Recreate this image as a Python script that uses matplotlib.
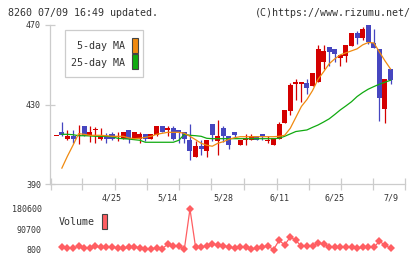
import numpy as np
import matplotlib
matplotlib.use("Agg")
import matplotlib.pyplot as plt
from matplotlib.patches import Rectangle

title_left = "8260 07/09 16:49 updated."
title_right = "(C)https://www.rizumu.net/"
date_labels = ["4/25", "5/14", "5/28", "6/11", "6/25", "7/9"]
date_label_idx = [10, 20, 30, 40, 50, 60]
price_ticks = [390, 430, 470]
vol_ticks = [800, 90700, 180600]
vol_tick_labels = ["800", "90700", "180600"]
legend_labels = ["5-day MA", "25-day MA"]

opens = [414.0, 416.2, 412.8, 414.2, 414.0, 419.2, 413.9, 417.3, 412.8, 414.2,
         415.2, 413.6, 412.8, 417.2, 412.8, 412.8, 415.2, 412.8, 414.9, 419.2,
         417.2, 418.2, 417.2, 416.2, 412.0, 403.7, 409.2, 406.8, 420.2, 411.8,
         418.2, 414.2, 416.2, 409.8, 412.1, 412.1, 414.2, 415.2, 411.7, 409.8,
         412.8, 420.8, 426.9, 440.5, 440.5, 441.0, 439.3, 441.5, 451.5, 458.8,
         457.9, 453.5, 454.6, 459.6, 466.0, 463.6, 470.0, 461.0, 457.9, 427.9,
         447.9]
highs = [414.2, 421.3, 417.2, 417.2, 419.5, 419.2, 419.2, 418.8, 418.2, 415.6,
         416.0, 416.2, 416.2, 417.2, 416.2, 416.2, 415.2, 415.2, 419.2, 419.2,
         419.2, 419.2, 417.2, 416.2, 420.0, 411.7, 412.0, 412.0, 420.2, 422.2,
         419.2, 414.2, 416.2, 412.1, 415.2, 415.2, 414.2, 415.2, 414.2, 413.2,
         421.0, 427.2, 441.0, 442.7, 441.1, 442.7, 446.0, 460.0, 460.0, 458.8,
         457.9, 454.9, 460.0, 466.0, 467.0, 469.0, 470.0, 468.0, 457.9, 442.8,
         447.9]
lows = [414.0, 413.9, 412.2, 410.5, 410.0, 413.9, 411.3, 410.8, 412.1, 410.8,
        412.0, 411.7, 412.8, 410.8, 412.8, 410.8, 411.8, 412.8, 414.0, 416.0,
        413.9, 412.0, 410.8, 410.8, 402.1, 403.7, 404.8, 403.7, 411.8, 404.6,
        411.3, 407.8, 413.0, 409.8, 409.8, 412.1, 412.1, 412.1, 410.8, 409.8,
        412.8, 420.8, 424.7, 432.3, 431.4, 435.3, 439.3, 441.5, 447.7, 449.4,
        451.5, 449.4, 451.5, 459.6, 460.6, 462.6, 460.6, 458.6, 421.8, 420.8,
        440.3]
closes = [414.2, 414.9, 414.2, 412.8, 414.4, 413.9, 416.2, 417.8, 414.2, 412.8,
          412.8, 414.1, 416.2, 412.8, 416.2, 415.2, 412.8, 415.2, 419.2, 416.0,
          418.2, 412.8, 416.0, 412.8, 406.8, 409.2, 407.8, 412.0, 414.5, 414.2,
          413.9, 409.8, 414.9, 412.1, 413.2, 414.2, 412.1, 413.9, 412.1, 413.2,
          420.2, 427.2, 439.8, 441.1, 441.1, 438.3, 446.0, 457.9, 456.9, 456.6,
          455.6, 454.9, 460.0, 466.0, 463.6, 468.0, 461.5, 458.6, 433.4, 442.8,
          442.3]
ma5 = [np.nan, 398.0, 404.0, 409.5, 415.3, 415.0, 414.5, 414.5, 414.5, 414.3,
       414.0, 414.0, 414.0, 413.2, 412.8, 413.0, 413.5, 414.0, 415.0, 415.5,
       416.0, 416.0, 416.0, 415.5, 414.0, 412.3, 410.5, 409.5, 409.0, 410.5,
       411.3, 412.5, 413.3, 413.8, 413.8, 413.8, 413.8, 413.8, 413.8, 413.8,
       414.0, 414.5, 418.0, 423.5, 429.0, 432.5, 437.0, 442.7, 446.5, 450.5,
       453.0, 455.0, 456.0, 457.0, 458.0, 460.0, 461.2, 461.0, 456.5, 452.0,
       447.9]
ma25 = [np.nan, 415.0, 415.0, 414.8, 414.3, 414.3, 414.2, 414.0, 414.0, 414.0,
        413.8, 413.0, 412.8, 412.6, 412.3, 412.0, 411.0, 411.0, 411.0, 411.0,
        411.0, 411.0, 412.0, 415.0, 414.5, 414.3, 414.0, 413.0, 412.8, 412.8,
        412.8, 412.8, 412.8, 412.8, 412.8, 412.8, 412.8, 412.8, 412.8, 412.8,
        413.0, 414.0, 415.2, 416.4, 416.8, 417.2, 418.5, 419.7, 421.2, 422.8,
        425.0, 427.3, 429.3, 431.4, 434.0, 436.0, 437.7, 439.0, 440.2, 441.2,
        442.2]
volume = [np.nan, 10800, 9300, 6400, 16700, 6400, 9300, 15300, 12300, 10800,
          10800, 9300, 6400, 10800, 12300, 9300, 4900, 3400, 9300, 4900,
          24100, 18200, 18200, 4900, 180600, 12300, 12300, 16700, 25600, 21200,
          18200, 10800, 7900, 12300, 10800, 2000, 6400, 12300, 16700, 800,
          41900, 21200, 56600, 41900, 15300, 15300, 15300, 30000, 25600, 12300,
          10800, 10800, 10800, 10800, 6400, 10800, 10800, 10800, 37400, 21200,
          6400]

W, H = 420, 259
RED = "#d40000"
BLUE = "#4646c0"
ORANGE = "#f08a10"
GREEN = "#10aa10"
VOLC = "#ff5e62"
GRID = "#cccccc"
TXT = "#333333"
MONO = "DejaVu Sans Mono"

def fx(px):
    return px / W

def fy(py):
    return 1 - py / H

fig = plt.figure(figsize=(W / 100, H / 100), dpi=100)

# pixel geometry
x0_px, x1_px = 50, 405
step_px = 5.57
first_px = 56.3
xlim = ((x0_px - first_px) / step_px, (x1_px - first_px) / step_px)

ax = fig.add_axes([fx(x0_px), fy(184), (x1_px - x0_px) / W, (184 - 25) / H])
ax.set_xlim(*xlim)
ax.set_ylim(price_ticks[0], price_ticks[-1])

idx = np.arange(len(opens))
o = np.array(opens); c = np.array(closes); h = np.array(highs); l = np.array(lows)
up = c >= o
cols = np.where(up, RED, BLUE)

ax.vlines(idx, l, h, colors=cols, linewidth=0.9, zorder=2, clip_on=False)
bottom = np.minimum(o, c)
height = np.maximum(np.abs(c - o), 0.55)
ax.bar(idx, height, bottom=bottom, width=0.9, color=cols, linewidth=0,
       zorder=3, clip_on=False)

ax.plot(idx, ma25, color=GREEN, lw=0.9, zorder=4)
ax.plot(idx, ma5, color=ORANGE, lw=0.9, zorder=4)

for s in ["top", "right"]:
    ax.spines[s].set_visible(False)
for s in ["left", "bottom"]:
    ax.spines[s].set_color(GRID)
    ax.spines[s].set_linewidth(0.9)

ax.set_yticks(price_ticks)
ax.set_yticklabels([str(v) for v in price_ticks], family=MONO, fontsize=6,
                   color=TXT)
ax.tick_params(axis="y", direction="inout", length=7, width=0.9, color=GRID,
               pad=3)
tick_px = [50.7, 82.3, 115.0, 146.7, 179.0, 210.5, 244.3, 276.7, 309.0,
           340.7, 373.3, 405.0]
ax.set_xticks([(p - first_px) / step_px for p in tick_px])
ax.set_xticklabels([])
ax.tick_params(axis="x", direction="inout", length=8, width=0.9, color=GRID)

for lab, i in zip(date_labels, date_label_idx):
    xpix = first_px + step_px * i
    fig.text(fx(xpix), fy(198), lab, ha="center", va="center", family=MONO,
             fontsize=6, color=TXT)

# volume axes
axv = fig.add_axes([fx(x0_px), fy(249.6), (x1_px - x0_px) / W,
                    (249.6 - 209) / H])
axv.set_xlim(*xlim)
axv.set_ylim(vol_ticks[0], vol_ticks[-1])
axv.plot(idx, volume, color=VOLC, lw=0.9, marker="D", markersize=3.8,
         markeredgewidth=0, clip_on=False)
for s in axv.spines.values():
    s.set_visible(False)
axv.set_xticks([])
axv.set_yticks(vol_ticks)
axv.set_yticklabels(vol_tick_labels, family=MONO, fontsize=6, color=TXT)
axv.tick_params(axis="y", length=0, pad=6)

# titles
fig.text(fx(8), fy(12.5), title_left, ha="left", va="center", family=MONO,
         fontsize=7.2, color=TXT)
fig.text(fx(410.5), fy(12.5), title_right, ha="right", va="center",
         family=MONO, fontsize=7.2, color=TXT)

# MA legend
fig.patches.append(Rectangle((fx(65), fy(77)), 78 / W, 47 / H,
                             transform=fig.transFigure, facecolor="white",
                             edgecolor=GRID, linewidth=0.9, zorder=5))
fig.text(fx(125), fy(46), legend_labels[0], ha="right", va="center",
         family=MONO, fontsize=7.2, color=TXT, zorder=6)
fig.text(fx(125), fy(62.5), legend_labels[1], ha="right", va="center",
         family=MONO, fontsize=7.2, color=TXT, zorder=6)
fig.patches.append(Rectangle((fx(131.5), fy(53)), 6 / W, 15.5 / H,
                             transform=fig.transFigure, facecolor=ORANGE,
                             edgecolor="#444444", linewidth=0.8, zorder=6))
fig.patches.append(Rectangle((fx(131.5), fy(69)), 6 / W, 15 / H,
                             transform=fig.transFigure, facecolor=GREEN,
                             edgecolor="#444444", linewidth=0.8, zorder=6))

# volume legend
fig.text(fx(59), fy(222), "Volume", ha="left", va="center", family=MONO,
         fontsize=7.2, color=TXT)
fig.patches.append(Rectangle((fx(101.5), fy(228.5)), 6 / W, 15 / H,
                             transform=fig.transFigure, facecolor=VOLC,
                             edgecolor="#444444", linewidth=0.8, zorder=6))

fig.savefig("out.png", dpi=100)
